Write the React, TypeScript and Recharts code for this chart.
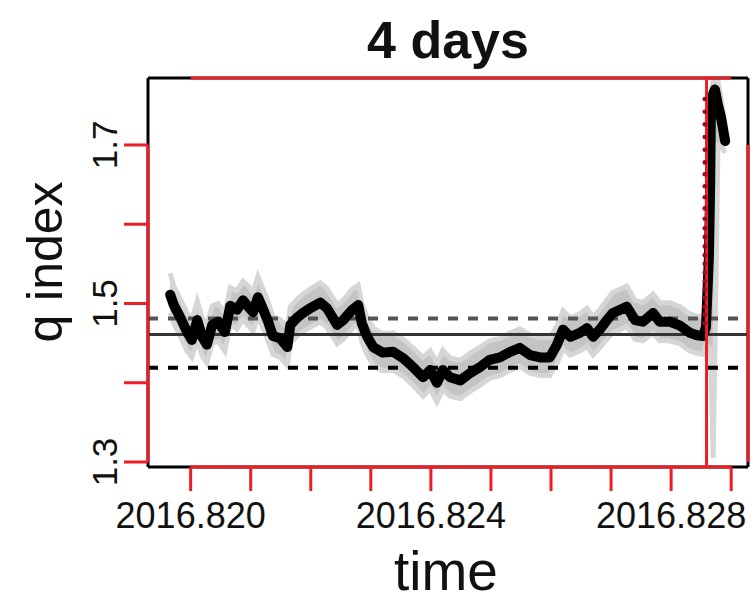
import React from "react";
import {
  Area,
  ComposedChart,
  Line,
  ReferenceLine,
  Scatter,
  XAxis,
  YAxis,
} from "recharts";

// decimal-year timestamps of the q index estimates
const times = [
  2016.81966, 2016.81972, 2016.81983, 2016.81994, 2016.82002, 2016.82011,
  2016.82019, 2016.82027, 2016.82036, 2016.82046, 2016.82057, 2016.82066,
  2016.82077, 2016.82087, 2016.82096, 2016.82104, 2016.82112, 2016.82121,
  2016.82129, 2016.82137, 2016.82149, 2016.82161, 2016.82166, 2016.82177,
  2016.82187, 2016.82199, 2016.82216, 2016.82227, 2016.82244, 2016.82254,
  2016.82269, 2016.82279, 2016.82285, 2016.82294, 2016.82304, 2016.8232,
  2016.82337, 2016.82354, 2016.8237, 2016.82387, 2016.82399, 2016.8241,
  2016.8242, 2016.82432, 2016.82449, 2016.82465, 2016.82482, 2016.82498,
  2016.82515, 2016.82532, 2016.82548, 2016.82565, 2016.82582, 2016.82598,
  2016.8261, 2016.8262, 2016.82632, 2016.82648, 2016.8266, 2016.8267,
  2016.82681, 2016.82693, 2016.82703, 2016.82715, 2016.82726, 2016.8274,
  2016.82753, 2016.8277, 2016.82781, 2016.82798, 2016.82815, 2016.82831,
  2016.82843, 2016.82853, 2016.82858, 2016.82863, 2016.82865, 2016.82866,
  2016.8287, 2016.82873, 2016.82878, 2016.82883, 2016.8289,
];

const qEstimate = [
  1.511, 1.498, 1.482, 1.464, 1.454, 1.479, 1.458, 1.448, 1.473, 1.477, 1.464,
  1.497, 1.492, 1.504, 1.496, 1.489, 1.508, 1.492, 1.477, 1.459, 1.456, 1.445,
  1.473, 1.482, 1.488, 1.494, 1.501, 1.494, 1.473, 1.479, 1.492, 1.498, 1.475,
  1.458, 1.445, 1.438, 1.439, 1.431, 1.42, 1.407, 1.416, 1.4, 1.416, 1.407,
  1.403, 1.412, 1.42, 1.429, 1.432, 1.439, 1.444, 1.435, 1.432, 1.432, 1.448,
  1.467, 1.458, 1.463, 1.469, 1.458, 1.467, 1.479, 1.488, 1.492, 1.496, 1.479,
  1.477, 1.488, 1.477, 1.477, 1.472, 1.463, 1.46, 1.459, 1.47, 1.56, 1.65,
  1.73, 1.765, 1.77, 1.75, 1.735, 1.705,
];

const qLow = [
  1.488, 1.475, 1.458, 1.44, 1.432, 1.455, 1.434, 1.425, 1.45, 1.452, 1.44,
  1.474, 1.468, 1.48, 1.472, 1.465, 1.484, 1.468, 1.453, 1.436, 1.432, 1.422,
  1.45, 1.459, 1.465, 1.47, 1.477, 1.47, 1.449, 1.455, 1.468, 1.474, 1.452,
  1.435, 1.422, 1.415, 1.416, 1.408, 1.397, 1.383, 1.392, 1.376, 1.392, 1.383,
  1.38, 1.389, 1.397, 1.406, 1.409, 1.416, 1.421, 1.412, 1.409, 1.409, 1.424,
  1.443, 1.435, 1.44, 1.446, 1.435, 1.444, 1.455, 1.463, 1.467, 1.471, 1.455,
  1.453, 1.463, 1.453, 1.453, 1.449, 1.44, 1.437, 1.436, 1.447, 1.445, 1.442,
  1.44, 1.305, 1.44, 1.7, 1.7, 1.69,
];

const qHigh = [
  1.538, 1.522, 1.505, 1.488, 1.478, 1.503, 1.482, 1.472, 1.497, 1.5, 1.488,
  1.52, 1.516, 1.528, 1.522, 1.514, 1.534, 1.517, 1.502, 1.483, 1.48, 1.47,
  1.496, 1.505, 1.512, 1.518, 1.526, 1.519, 1.498, 1.504, 1.518, 1.523, 1.5,
  1.482, 1.469, 1.462, 1.463, 1.455, 1.444, 1.432, 1.44, 1.425, 1.441, 1.431,
  1.428, 1.437, 1.445, 1.453, 1.456, 1.463, 1.468, 1.46, 1.457, 1.457, 1.472,
  1.491, 1.482, 1.487, 1.494, 1.483, 1.492, 1.504, 1.514, 1.518, 1.522, 1.504,
  1.501, 1.512, 1.501, 1.501, 1.496, 1.487, 1.484, 1.483, 1.494, 1.6, 1.69,
  1.76, 1.785, 1.785, 1.78, 1.76, 1.725,
];

// points sitting on the change-point line
const jumpTime = 2016.82856;
const jumpValues = [
  1.475, 1.486, 1.496, 1.507, 1.518, 1.528, 1.539, 1.55, 1.561, 1.572, 1.584,
  1.595, 1.607, 1.62, 1.634, 1.648, 1.663, 1.678, 1.694, 1.71, 1.726, 1.742,
  1.758,
];

const changePoint = 2016.82859;
const qMean = 1.461;
const qUpper = 1.481;
const qLower = 1.419;

const xTicks = [
  2016.82, 2016.821, 2016.822, 2016.823, 2016.824, 2016.825, 2016.826,
  2016.827, 2016.828, 2016.829,
];
const xLabels = ["2016.820", "2016.824", "2016.828"];
const yTicks = [1.3, 1.4, 1.5, 1.6, 1.7];
const yLabels = ["1.3", "1.5", "1.7"];

const X_MIN = 2016.81929;
const X_MAX = 2016.82928;
const Y_MIN = 1.2937;
const Y_MAX = 1.7845;

const RED = "#ee1c24";
const FONT = "'Liberation Sans', Arial, Helvetica, sans-serif";

const series = times.map((t, i) => ({
  t,
  q: qEstimate[i],
  band: [qLow[i], qHigh[i]],
}));
const jumpPoints = jumpValues.map((v) => ({ t: jumpTime, v }));
const hline = (v: number) => [
  { t: X_MIN, v },
  { t: X_MAX, v },
];

function XTick({ x, y, payload }: any) {
  const label = Number(payload.value).toFixed(3);
  if (!xLabels.includes(label)) return null;
  return (
    <text x={x} y={y + 37} textAnchor="middle" fontSize={36} fontFamily={FONT} fill="#111">
      {label}
    </text>
  );
}

function YTick({ x, y, payload }: any) {
  const label = Number(payload.value).toFixed(1);
  if (!yLabels.includes(label)) return null;
  const tx = x - 7;
  return (
    <text
      x={tx}
      y={y}
      transform={`rotate(-90 ${tx} ${y})`}
      textAnchor="middle"
      fontSize={35}
      fontFamily={FONT}
      fill="#111"
    >
      {label}
    </text>
  );
}

export default function App() {
  return (
    <div style={{ position: "absolute", left: 0, top: 0, width: 753, height: 604, background: "#fff" }}>
      <ComposedChart
        width={753}
        height={604}
        margin={{ top: 78, right: 5, bottom: 77, left: 0 }}
      >
        <XAxis
          type="number"
          dataKey="t"
          domain={[X_MIN, X_MAX]}
          allowDataOverflow
          ticks={xTicks}
          interval={0}
          height={60}
          axisLine={false}
          tickLine={{ stroke: RED, strokeWidth: 3 }}
          tickSize={24}
          tickMargin={0}
          tick={<XTick />}
        />
        <YAxis
          type="number"
          domain={[Y_MIN, Y_MAX]}
          allowDataOverflow
          ticks={yTicks}
          interval={0}
          width={148}
          axisLine={false}
          tickLine={{ stroke: RED, strokeWidth: 3 }}
          tickSize={24}
          tickMargin={0}
          tick={<YTick />}
        />

        {/* confidence band, soft edge */}
        <Area
          data={series}
          dataKey="band"
          type="linear"
          stroke="#d6d6d6"
          strokeWidth={5}
          fill="#c4c4c4"
          fillOpacity={1}
          isAnimationActive={false}
        />
        <Line
          data={hline(qUpper)}
          dataKey="v"
          stroke="#555"
          strokeWidth={4}
          strokeDasharray="10 10"
          dot={false}
          isAnimationActive={false}
        />
        <Line
          data={hline(qMean)}
          dataKey="v"
          stroke="#333"
          strokeWidth={3}
          dot={false}
          isAnimationActive={false}
        />
        <Line
          data={hline(qLower)}
          dataKey="v"
          stroke="#000"
          strokeWidth={4}
          strokeDasharray="10 10"
          dot={false}
          isAnimationActive={false}
        />
        <Line
          data={series}
          dataKey="q"
          type="linear"
          stroke="#000"
          strokeWidth={10}
          strokeLinejoin="round"
          strokeLinecap="round"
          dot={false}
          isAnimationActive={false}
        />
        <Scatter
          data={jumpPoints}
          dataKey="v"
          isAnimationActive={false}
          shape={(p: any) => <circle cx={p.cx} cy={p.cy} r={2.3} fill="#9b0d12" />}
        />

        {/* plot box */}
        <ReferenceLine segment={[{ x: X_MIN, y: Y_MAX }, { x: X_MAX, y: Y_MAX }]} stroke="#000" strokeWidth={3} />
        <ReferenceLine segment={[{ x: X_MIN, y: Y_MIN }, { x: X_MAX, y: Y_MIN }]} stroke="#000" strokeWidth={3} />
        <ReferenceLine segment={[{ x: X_MIN, y: Y_MIN }, { x: X_MIN, y: Y_MAX }]} stroke="#000" strokeWidth={3} />
        <ReferenceLine segment={[{ x: X_MAX, y: Y_MIN }, { x: X_MAX, y: Y_MAX }]} stroke="#000" strokeWidth={3} />

        {/* red axes on all four sides, tick span only */}
        <ReferenceLine segment={[{ x: xTicks[0], y: Y_MIN }, { x: xTicks[9], y: Y_MIN }]} stroke={RED} strokeWidth={3} />
        <ReferenceLine segment={[{ x: xTicks[0], y: Y_MAX }, { x: xTicks[9], y: Y_MAX }]} stroke={RED} strokeWidth={3} />
        <ReferenceLine segment={[{ x: X_MIN, y: yTicks[0] }, { x: X_MIN, y: yTicks[4] }]} stroke={RED} strokeWidth={3} />
        <ReferenceLine segment={[{ x: X_MAX, y: yTicks[0] }, { x: X_MAX, y: yTicks[4] }]} stroke={RED} strokeWidth={3} />

        {/* change point */}
        <ReferenceLine x={changePoint} stroke={RED} strokeWidth={3} />
      </ComposedChart>

      <svg
        width={753}
        height={604}
        style={{ position: "absolute", left: 0, top: 0, pointerEvents: "none" }}
        fontFamily={FONT}
      >
        <text x={448} y={58} textAnchor="middle" fontSize={52} fontWeight="bold" fill="#111">
          4 days
        </text>
        <text x={446} y={590} textAnchor="middle" fontSize={55} fill="#111">
          time
        </text>
        <text
          x={62}
          y={262}
          transform="rotate(-90 62 262)"
          textAnchor="middle"
          fontSize={50}
          fill="#111"
        >
          q index
        </text>
      </svg>
    </div>
  );
}
